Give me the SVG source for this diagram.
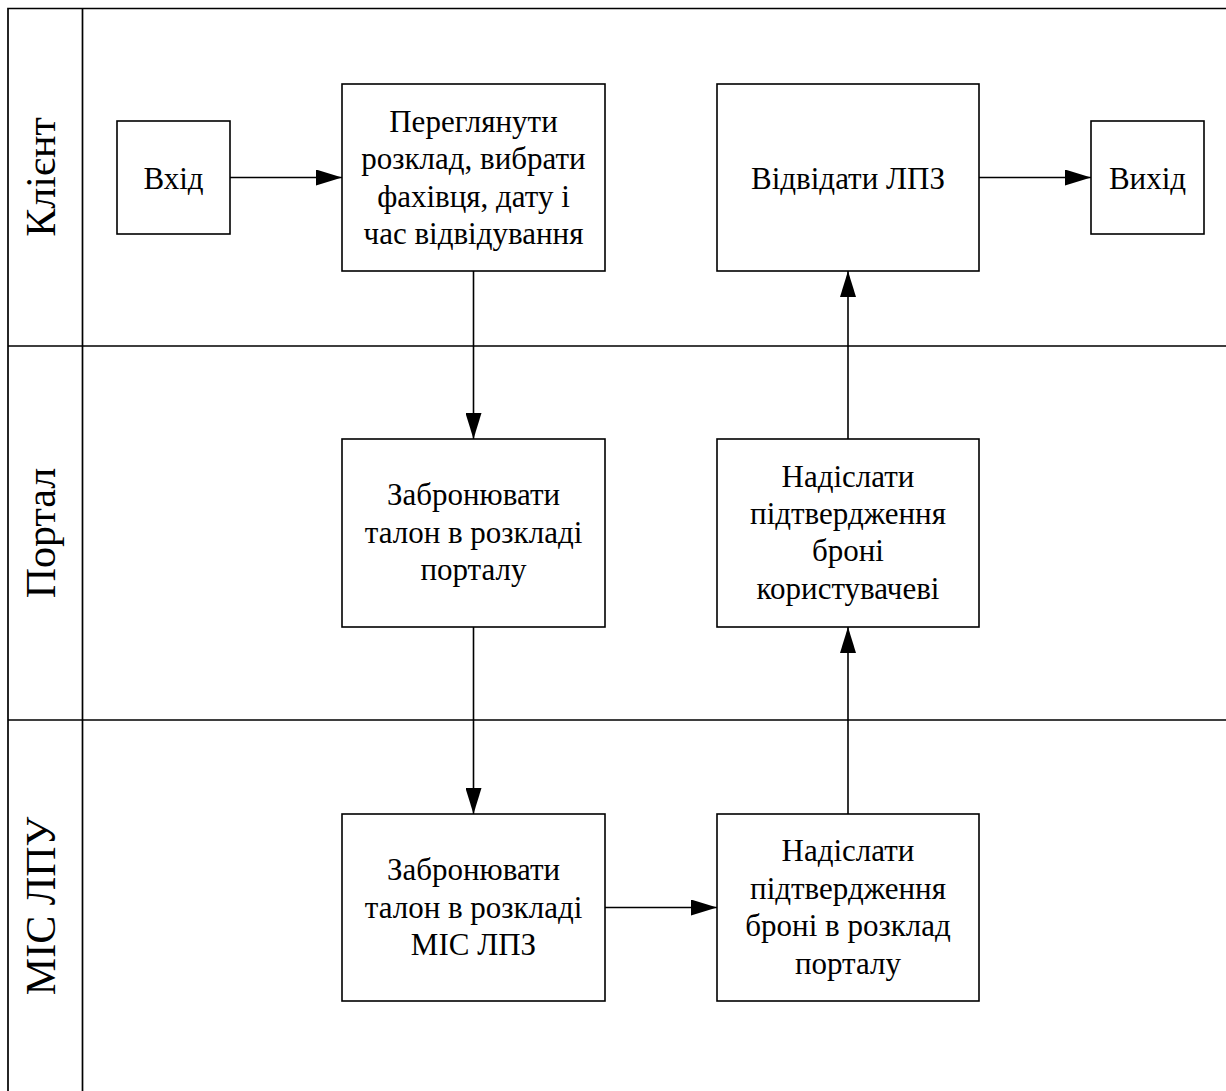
<svg xmlns="http://www.w3.org/2000/svg" width="1226" height="1091" viewBox="0 0 1226 1091">
<style>
.frame{stroke:#000;stroke-width:1.7;fill:none}
.box{stroke:#000;stroke-width:1.6;fill:#fff}
.t{font-family:"Liberation Serif","Times New Roman",serif;font-size:31px;fill:#000;text-anchor:middle}
.lane{font-family:"Liberation Serif","Times New Roman",serif;font-size:42px;fill:#000;text-anchor:middle}
.c{stroke:#000;stroke-width:1.6;fill:none;marker-end:url(#arr)}
</style>
<defs>
<marker id="arr" markerUnits="userSpaceOnUse" markerWidth="26" markerHeight="16" refX="26" refY="8" orient="auto">
<path d="M0,0 L26,8 L0,16 Z" fill="#000"/>
</marker>
</defs>
<rect width="1226" height="1091" fill="#fff"/>
<g id="lanes">
<path class="frame" d="M8,1091 V8.5 H1226 M82.5,8.5 V1091 M8,346 H1226 M8,720 H1226"/>
<text class="lane" transform="translate(55,177) rotate(-90)">Клієнт</text>
<text class="lane" transform="translate(55,533) rotate(-90)">Портал</text>
<text class="lane" transform="translate(55,906) rotate(-90)">МІС ЛПУ</text>
</g>
<g id="connectors">
<line class="c" x1="230" y1="177.5" x2="342" y2="177.5"/>
<line class="c" x1="473.5" y1="271" x2="473.5" y2="439"/>
<line class="c" x1="473.5" y1="627" x2="473.5" y2="814"/>
<line class="c" x1="605" y1="907.5" x2="717" y2="907.5"/>
<line class="c" x1="848" y1="814" x2="848" y2="627"/>
<line class="c" x1="848" y1="439" x2="848" y2="271"/>
<line class="c" x1="979" y1="177.5" x2="1091" y2="177.5"/>
</g>
<g id="entry">
<rect class="box" x="117" y="121" width="113" height="113"/>
<text class="t" x="173.5" y="188.5">Вхід</text>
</g>
<g id="view">
<rect class="box" x="342" y="84" width="263" height="187"/>
<text class="t" x="473.5" y="131.5">Переглянути</text>
<text class="t" x="473.5" y="169">розклад, вибрати</text>
<text class="t" x="473.5" y="206.5">фахівця, дату і</text>
<text class="t" x="473.5" y="243.5">час відвідування</text>
</g>
<g id="visit">
<rect class="box" x="717" y="84" width="262" height="187"/>
<text class="t" x="848" y="188.5">Відвідати ЛПЗ</text>
</g>
<g id="exit">
<rect class="box" x="1091" y="121" width="113" height="113"/>
<text class="t" x="1147.5" y="188.5">Вихід</text>
</g>
<g id="book-portal">
<rect class="box" x="342" y="439" width="263" height="188"/>
<text class="t" x="473.5" y="505">Забронювати</text>
<text class="t" x="473.5" y="542.5">талон в розкладі</text>
<text class="t" x="473.5" y="580">порталу</text>
</g>
<g id="notify-user">
<rect class="box" x="717" y="439" width="262" height="188"/>
<text class="t" x="848" y="486.5">Надіслати</text>
<text class="t" x="848" y="524">підтвердження</text>
<text class="t" x="848" y="561">броні</text>
<text class="t" x="848" y="598.5">користувачеві</text>
</g>
<g id="book-mis">
<rect class="box" x="342" y="814" width="263" height="187"/>
<text class="t" x="473.5" y="880">Забронювати</text>
<text class="t" x="473.5" y="917.5">талон в розкладі</text>
<text class="t" x="473.5" y="955">МІС ЛПЗ</text>
</g>
<g id="notify-portal">
<rect class="box" x="717" y="814" width="262" height="187"/>
<text class="t" x="848" y="861">Надіслати</text>
<text class="t" x="848" y="898.5">підтвердження</text>
<text class="t" x="848" y="936">броні в розклад</text>
<text class="t" x="848" y="973.5">порталу</text>
</g>
</svg>
